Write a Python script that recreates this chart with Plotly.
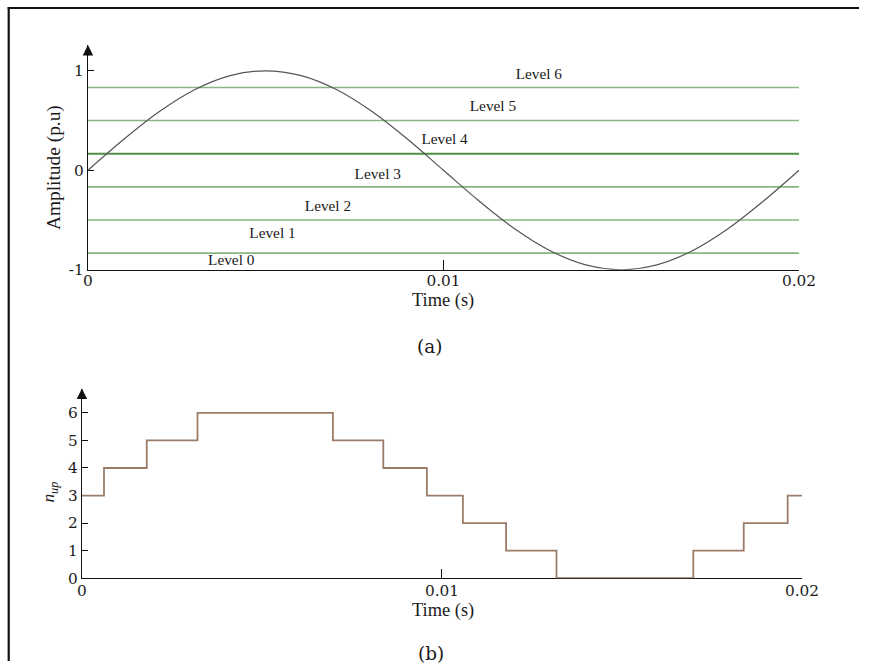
import plotly.graph_objects as go

W, H = 876, 670

# ---------------- data ----------------
# (a) reference sine (amplitude 1 p.u., one period over 0.02 s)
sine_t = [0.000, 0.001, 0.002, 0.003, 0.004, 0.005, 0.006, 0.007, 0.008, 0.009, 0.010,
          0.011, 0.012, 0.013, 0.014, 0.015, 0.016, 0.017, 0.018, 0.019, 0.020]
sine_v = [0.000, 0.309, 0.588, 0.809, 0.951, 1.000, 0.951, 0.809, 0.588, 0.309, 0.000,
          -0.309, -0.588, -0.809, -0.951, -1.000, -0.951, -0.809, -0.588, -0.309, 0.000]

# horizontal level boundaries
level_lines = [-0.833, -0.5, -0.167, 0.167, 0.5, 0.833]
level_line_colors = ["#86b77f", "#86b77f", "#86b77f", "#4f9146", "#86b77f", "#86b77f"]
level_line_widths = [1.6, 1.6, 1.6, 2.0, 1.6, 1.6]

# level labels
level_names = ["Level 0", "Level 1", "Level 2", "Level 3", "Level 4", "Level 5", "Level 6"]
level_label_t = [0.00403, 0.00519, 0.00675, 0.00815, 0.01003, 0.01139, 0.01268]
level_label_v = [-0.913, -0.640, -0.376, -0.050, 0.300, 0.637, 0.960]

# (b) n_up step signal
step_t = [0.0, 0.000613, 0.0018, 0.00321, 0.00697, 0.00837, 0.00958, 0.01058,
          0.01178, 0.01318, 0.01698, 0.01838, 0.0196, 0.02]
step_n = [3, 4, 5, 6, 5, 4, 3, 2, 1, 0, 1, 2, 3, 3]

x_ticks = [0, 0.01, 0.02]
x_tick_text = ["0", "0.01", "0.02"]
ya_ticks = [-1, 0, 1]
ya_tick_text = ["-1", "0", "1"]
yb_ticks = [0, 1, 2, 3, 4, 5, 6]
yb_tick_text = ["0", "1", "2", "3", "4", "5", "6"]

# ---------------- figure ----------------
TXT = "#1a1a1a"
SERIF = "Liberation Serif"
NUMF = "DejaVu Serif"

# the photographed page shows up slightly shrunk; these factors compensate
SX, OX, SY = 0.972, 6.3, 0.985


def px(x):
    return ((x - OX) / SX) / W


def py(y):
    return 1 - (y / SY) / H


def fs(s):
    return round(s / ((SX + SY) / 2), 1)


fig = go.Figure()

for lv, c, w in zip(level_lines, level_line_colors, level_line_widths):
    fig.add_trace(go.Scatter(x=[x_ticks[0], x_ticks[-1]], y=[lv, lv], mode="lines",
                             line=dict(color=c, width=w), xaxis="x", yaxis="y",
                             showlegend=False, hoverinfo="skip"))

fig.add_trace(go.Scatter(x=sine_t, y=sine_v, mode="lines",
                         line=dict(color="#555555", width=1.2, shape="spline", smoothing=1.0),
                         xaxis="x", yaxis="y", showlegend=False))

fig.add_trace(go.Scatter(x=level_label_t, y=level_label_v, mode="text", text=level_names,
                         textfont=dict(family=SERIF, size=fs(15), color=TXT),
                         xaxis="x", yaxis="y", showlegend=False, hoverinfo="skip"))

fig.add_trace(go.Scatter(x=step_t, y=step_n, mode="lines",
                         line=dict(color="#9a7c68", width=1.8, shape="hv"),
                         xaxis="x2", yaxis="y2", showlegend=False))

axis_common = dict(showline=True, linecolor="#111111", linewidth=1.3, showgrid=False,
                   zeroline=False, ticks="inside", tickcolor="#111111", tickwidth=1.3,
                   tickfont=dict(family=NUMF, size=fs(15), color=TXT), layer="below traces",
                   fixedrange=True)

fig.update_layout(
    width=W, height=H, autosize=False,
    margin=dict(l=0, r=0, t=0, b=0),
    paper_bgcolor="white", plot_bgcolor="white",
    xaxis=dict(axis_common, domain=[px(89), px(798)], range=[0, 0.02], anchor="y",
               tickvals=x_ticks, ticktext=x_tick_text, ticklen=10, ticklabelstandoff=-3),
    yaxis=dict(axis_common, domain=[py(269.3), py(45)], range=[-1, 1.259], anchor="x",
               tickvals=ya_ticks, ticktext=ya_tick_text, ticklen=6),
    xaxis2=dict(axis_common, domain=[px(83), px(801)], range=[0, 0.02], anchor="y2",
                tickvals=x_ticks, ticktext=x_tick_text, ticklen=9, ticklabelstandoff=-2),
    yaxis2=dict(axis_common, domain=[py(577.3), py(388)], range=[0, 6.88], anchor="x2",
                tickvals=yb_ticks, ticktext=yb_tick_text, ticklen=6),
)

# arrowheads on the vertical axes
for xr, yr, top in [("x", "y", 1.259), ("x2", "y2", 6.88)]:
    fig.add_annotation(x=0, y=top, xref=xr, yref=yr, ax=0, ay=12, axref="pixel", ayref="pixel",
                       text="", showarrow=True, arrowhead=2, arrowsize=1.6, arrowwidth=1.3,
                       arrowcolor="#111111", standoff=0)


def label(text, x, y, size, rot=0, family=SERIF):
    fig.add_annotation(x=px(x), y=py(y), xref="paper", yref="paper", text=text,
                       showarrow=False, textangle=rot, xanchor="center", yanchor="middle",
                       font=dict(family=family, size=fs(size), color=TXT))


label("Amplitude (p.u)", 55, 167, 19, rot=-90)
label("Time (s)", 443, 300, 18)
label("(a)", 430, 346, 18, family=NUMF)
label("<i>n</i><sub><i>up</i></sub>", 51, 491, 17, rot=-90)
label("Time (s)", 443.5, 610, 18)
label("(b)", 431, 652, 18, family=NUMF)

# outer frame (only top and left edges are visible in the picture)
fig.add_shape(type="line", xref="paper", yref="paper", x0=px(9), x1=1.0, y0=py(8), y1=py(8),
              line=dict(color="#111111", width=2.2), layer="above")
fig.add_shape(type="line", xref="paper", yref="paper", x0=px(10), x1=px(10), y0=py(7), y1=0.0,
              line=dict(color="#111111", width=2.2), layer="above")

fig.write_html("out.html", config={"displayModeBar": False})
